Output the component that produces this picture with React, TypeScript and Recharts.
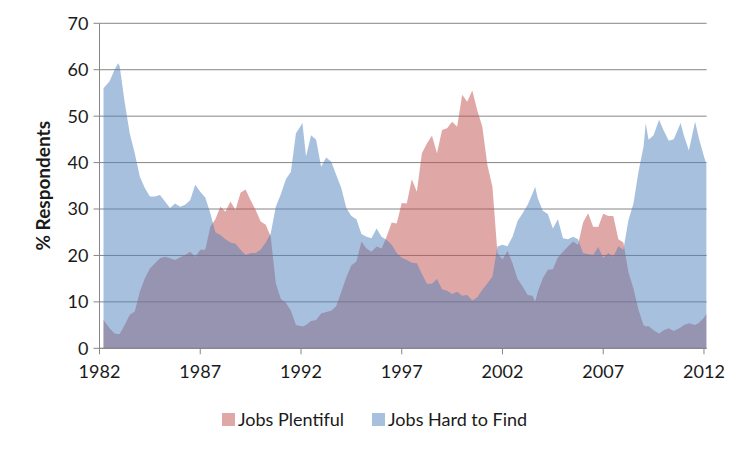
import React from "react";
import { AreaChart, Area, XAxis, YAxis, CartesianGrid } from "recharts";

// Decimal year of each observation
const years = [
  1982.2, 1982.5, 1982.75, 1982.92, 1983.0, 1983.25, 1983.5, 1983.75,
  1984.0, 1984.25, 1984.5, 1984.75, 1985.0, 1985.25, 1985.5, 1985.75,
  1986.0, 1986.25, 1986.5, 1986.75, 1987.0, 1987.25, 1987.5, 1987.75,
  1988.0, 1988.25, 1988.5, 1988.75, 1989.0, 1989.25, 1989.5, 1989.75,
  1990.0, 1990.25, 1990.5, 1990.75, 1991.0, 1991.25, 1991.5, 1991.75,
  1992.0, 1992.07, 1992.25, 1992.5, 1992.75, 1993.0, 1993.25, 1993.5, 1993.75,
  1994.0, 1994.25, 1994.5, 1994.75, 1995.0, 1995.25, 1995.5, 1995.75,
  1996.0, 1996.25, 1996.5, 1996.75, 1997.0, 1997.25, 1997.5, 1997.75,
  1998.0, 1998.25, 1998.5, 1998.75, 1999.0, 1999.25, 1999.5, 1999.75,
  2000.0, 2000.25, 2000.5, 2000.75, 2001.0, 2001.25, 2001.5, 2001.75,
  2002.0, 2002.25, 2002.5, 2002.75, 2003.0, 2003.25, 2003.5, 2003.62, 2003.75,
  2004.0, 2004.25, 2004.5, 2004.75, 2005.0, 2005.25, 2005.5, 2005.75,
  2006.0, 2006.25, 2006.5, 2006.75, 2007.0, 2007.25, 2007.5, 2007.75,
  2008.0, 2008.25, 2008.5, 2008.75, 2009.0, 2009.11, 2009.25, 2009.5, 2009.77,
  2010.0, 2010.25, 2010.5, 2010.84, 2011.0, 2011.25, 2011.56, 2011.75,
  2012.0, 2012.13,
];

// Jobs Plentiful (% respondents)
const jobsPlentiful = [
  6.1, 4.3, 3.2, 3.1, 3.1, 5.0, 7.2, 7.9,
  12.2, 15.1, 17.2, 18.3, 19.4, 19.7, 19.4, 19.0,
  19.6, 20.1, 20.8, 19.7, 21.2, 21.2, 26.2, 27.8,
  30.5, 29.4, 31.6, 29.8, 33.5, 34.2, 31.9, 29.8,
  27.3, 26.6, 24.0, 14.0, 10.6, 9.8, 8.1, 5.0,
  4.8, 4.7, 5.0, 5.9, 6.1, 7.5, 7.8, 8.1, 9.1,
  12.2, 15.3, 17.9, 18.7, 23.0, 21.5, 20.8, 21.9,
  21.5, 24.0, 27.1, 26.9, 31.3, 31.2, 36.4, 33.7,
  42.0, 44.1, 45.8, 42.0, 47.0, 47.4, 48.8, 47.7,
  54.6, 53.1, 55.5, 51.2, 47.7, 39.5, 34.8, 20.5,
  19.1, 21.0, 18.3, 14.9, 13.3, 11.5, 11.3, 10.0, 12.2,
  15.1, 16.9, 17.0, 19.6, 20.8, 21.9, 23.0, 22.3,
  27.1, 29.1, 26.2, 26.1, 29.0, 28.5, 28.5, 23.5,
  22.8, 16.4, 12.9, 8.3, 5.0, 4.7, 4.8, 3.9, 3.2,
  3.9, 4.3, 3.7, 4.5, 5.0, 5.4, 5.0, 5.5,
  6.6, 7.5,
];

// Jobs Hard to Find (% respondents)
const jobsHardToFind = [
  56.0, 57.5, 60.0, 61.4, 60.8, 53.0, 46.3, 42.0,
  37.0, 34.5, 32.7, 32.7, 33.0, 31.6, 30.2, 31.2,
  30.5, 30.9, 31.9, 35.2, 33.7, 32.5, 29.1, 25.0,
  24.4, 23.5, 22.8, 22.5, 21.2, 20.1, 20.5, 20.5,
  21.3, 22.8, 24.8, 30.5, 33.2, 36.4, 38.0, 46.3,
  48.0, 48.5, 41.3, 45.9, 44.9, 39.1, 41.1, 40.2, 37.3,
  34.5, 30.2, 28.5, 27.8, 24.6, 24.0, 23.7, 25.8,
  24.0, 23.3, 22.3, 20.5, 19.5, 19.0, 18.4, 18.3,
  16.0, 13.9, 13.9, 14.9, 12.7, 12.4, 11.7, 12.2,
  11.3, 11.5, 10.3, 11.0, 12.6, 14.0, 15.4, 21.9,
  22.3, 22.0, 24.0, 27.4, 29.1, 30.9, 33.4, 34.8, 32.3,
  29.6, 28.9, 25.8, 27.8, 23.7, 23.5, 24.0, 23.5,
  20.5, 20.3, 20.1, 21.8, 19.5, 20.5, 19.7, 22.0,
  21.2, 27.6, 31.2, 38.0, 43.4, 48.5, 44.9, 45.9, 49.2,
  46.9, 44.7, 45.0, 48.5, 45.9, 42.6, 48.8, 45.2,
  41.3, 39.5,
];

const xTicks = [1982, 1987, 1992, 1997, 2002, 2007, 2012];
const yTicks = [0, 10, 20, 30, 40, 50, 60, 70];
const seriesNames = ["Jobs Plentiful", "Jobs Hard to Find"];

const data = years.map((y, i) => ({
  year: y,
  jp: jobsPlentiful[i],
  htf: jobsHardToFind[i],
}));

const FONT = "Lato, 'Open Sans', sans-serif";
const GRID = "#868686";
const RED = "#C0504D";
const BLUE = "#4F81BD";
const TEXT = "#1a1a1a";

const YTitle = (props: any) => {
  const vb = props.viewBox || {};
  const cy = (vb.y ?? 23.3) + (vb.height ?? 325) / 2;
  const cx = 43;
  return (
    <text
      x={cx}
      y={cy}
      transform={`rotate(-90, ${cx}, ${cy})`}
      textAnchor="middle"
      dominantBaseline="central"
      fontFamily={FONT}
      fontWeight={700}
      fontSize={19}
      fill={TEXT}
    >
      % Respondents
    </text>
  );
};

export default function App() {
  return (
    <div
      style={{
        position: "absolute",
        left: 0,
        top: 0,
        width: 752,
        height: 452,
        background: "#fff",
        fontFamily: FONT,
      }}
    >
      <AreaChart
        width={752}
        height={452}
        data={data}
        margin={{ top: 23.3, right: 45.4, left: 0, bottom: 73.7 }}
      >
        <CartesianGrid vertical={false} stroke={GRID} strokeWidth={1} />
        <XAxis
          type="number"
          dataKey="year"
          domain={[1982, 2012.13]}
          ticks={xTicks}
          allowDataOverflow
          height={30}
          tickSize={6}
          tickMargin={11}
          axisLine={{ stroke: GRID }}
          tickLine={{ stroke: GRID }}
          tick={{ fill: TEXT, fontSize: 18, fontFamily: FONT }}
        />
        <YAxis
          domain={[0, 70]}
          ticks={yTicks}
          width={99.5}
          tickSize={6}
          tickMargin={5}
          axisLine={{ stroke: GRID }}
          tickLine={{ stroke: GRID }}
          tick={{ fill: TEXT, fontSize: 18, fontFamily: FONT }}
          label={{ content: YTitle }}
        />
        <Area
          type="linear"
          dataKey="jp"
          name={seriesNames[0]}
          stroke="none"
          fill={RED}
          fillOpacity={0.5}
          isAnimationActive={false}
          dot={false}
          activeDot={false}
        />
        <Area
          type="linear"
          dataKey="htf"
          name={seriesNames[1]}
          stroke="none"
          fill={BLUE}
          fillOpacity={0.5}
          isAnimationActive={false}
          dot={false}
          activeDot={false}
        />
      </AreaChart>
      <div
        style={{
          position: "absolute",
          left: 222,
          top: 408,
          height: 22,
          display: "flex",
          alignItems: "center",
          fontSize: 18,
          color: TEXT,
          whiteSpace: "nowrap",
        }}
      >
        {seriesNames.map((name, i) => (
          <div
            key={name}
            style={{
              display: "flex",
              alignItems: "center",
              marginRight: i === 0 ? 28 : 0,
            }}
          >
            <span
              style={{
                display: "inline-block",
                width: 13,
                height: 13,
                background: i === 0 ? RED : BLUE,
                opacity: 0.5,
                marginRight: 3,
              }}
            />
            <span>{name}</span>
          </div>
        ))}
      </div>
    </div>
  );
}
